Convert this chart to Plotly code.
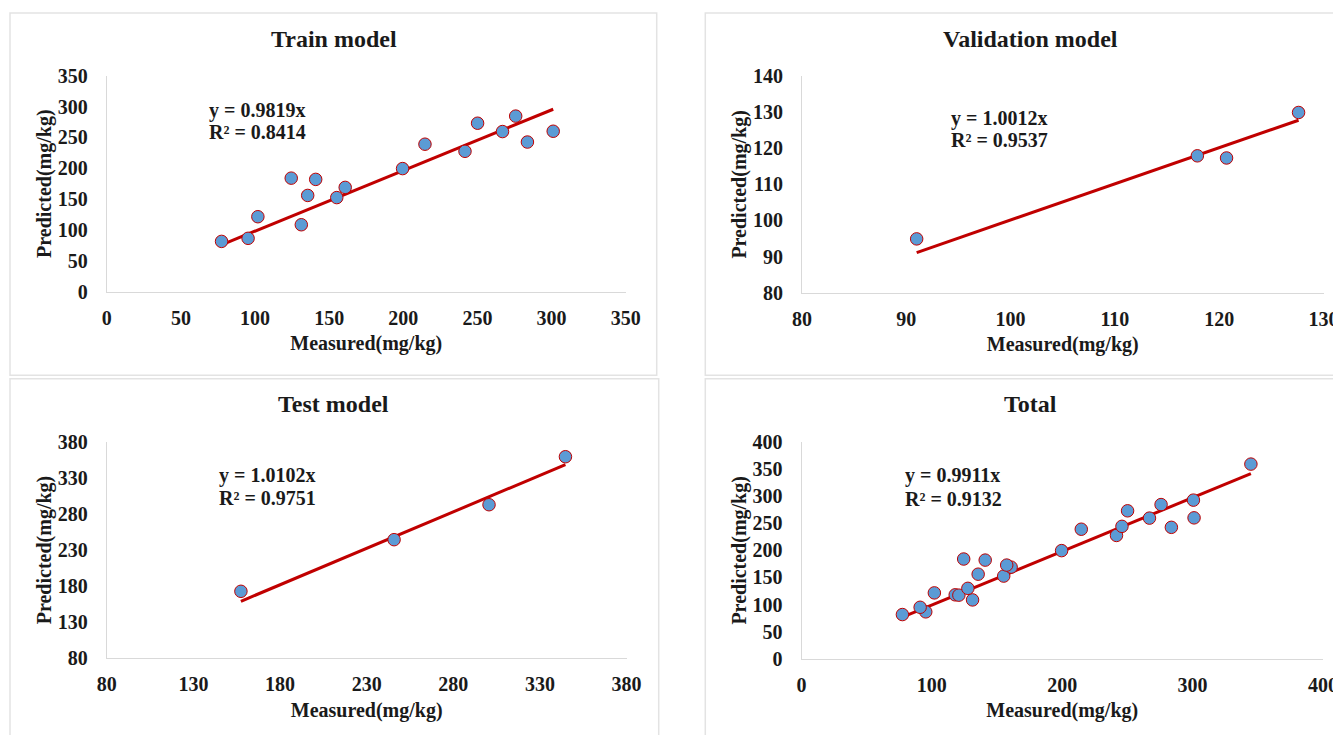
import plotly.graph_objects as go

# ---------------- data ----------------
train_measured = [77.4, 95.3, 101.9, 124.4, 131.2, 135.5, 140.9, 155.1, 160.8,
                  199.5, 214.6, 241.6, 250.1, 266.9, 275.8, 283.7, 301.1]
train_predicted = [81.5, 86.5, 121.5, 184.0, 108.5, 156.0, 182.0, 152.5, 169.0,
                   199.5, 239.0, 227.5, 273.0, 259.5, 284.5, 242.5, 260.0]

val_measured = [91.0, 117.9, 120.7, 127.6]
val_predicted = [94.9, 117.9, 117.3, 129.9]

test_measured = [157.4, 245.8, 300.6, 344.7]
test_predicted = [172.8, 244.3, 292.7, 359.2]

total_measured = train_measured + val_measured + test_measured
total_predicted = train_predicted + val_predicted + test_predicted

titles = ["Train model", "Validation model", "Test model", "Total"]
slopes = [0.9819, 1.0012, 1.0102, 0.9911]
r2_values = [0.8414, 0.9537, 0.9751, 0.9132]

x_ranges = [[0, 350], [80, 130], [80, 380], [0, 400]]
y_ranges = [[0, 350], [80, 140], [80, 380], [0, 400]]
x_dticks = [50, 10, 50, 100]
y_dticks = [50, 10, 50, 50]

x_label = "Measured(mg/kg)"
y_label = "Predicted(mg/kg)"

# ---------------- layout geometry (pixels in the page) ----------------
PAGE_W, PAGE_H = 1341, 735
OFF = 8                      # default body margin of the html page
W, H = PAGE_W - OFF, PAGE_H - OFF
FONT = "Times New Roman, Liberation Serif, serif"
TXT = "#1a1a1a"
GRID = "#d9d9d9"

plot_px = [  # x0, x1, y_top, y_bottom
    (106.8, 625.7, 75.7, 291.7),
    (801.9, 1323.6, 76.0, 292.7),
    (106.8, 626.6, 441.7, 658.3),
    (801.5, 1323.0, 442.0, 658.7),
]
panel_px = [  # left, top, right, bottom
    (10, 13, 656.7, 375.3),
    (705.3, 13, 1360, 375.3),
    (10, 378.7, 658.7, 760),
    (705.3, 378.7, 1360, 760),
]
title_px = [(333.5, 39), (1030, 39), (333.5, 404), (1030, 404)]
eq_px = [(207, 110, 131.7), (949, 118, 140), (217.4, 475, 498), (902.6, 475, 499)]

def px(x):
    return (x - OFF) / W

def py(y):
    return 1 - (y - OFF) / H

series = [
    (train_measured, train_predicted),
    (val_measured, val_predicted),
    (test_measured, test_predicted),
    (total_measured, total_predicted),
]

fig = go.Figure()
layout_axes = {}
annotations = []
shapes = []

for i, (xs, ys) in enumerate(series):
    n = i + 1
    xa = "x" if n == 1 else f"x{n}"
    ya = "y" if n == 1 else f"y{n}"
    xkey = "xaxis" if n == 1 else f"xaxis{n}"
    ykey = "yaxis" if n == 1 else f"yaxis{n}"

    # trend line through origin
    xmin, xmax = min(xs), max(xs)
    fig.add_trace(go.Scatter(
        x=[xmin, xmax], y=[slopes[i] * xmin, slopes[i] * xmax],
        mode="lines", line=dict(color="#c00000", width=3),
        xaxis=xa, yaxis=ya, showlegend=False, hoverinfo="skip"))
    fig.add_trace(go.Scatter(
        x=xs, y=ys, mode="markers",
        marker=dict(size=12.5, color="#5b9bd5",
                    line=dict(color="#c00000", width=1)),
        xaxis=xa, yaxis=ya, showlegend=False))

    x0, x1, yt, yb = plot_px[i]
    axis_common = dict(
        showgrid=False, zeroline=False, showline=True, linecolor=GRID,
        linewidth=1, ticks="outside", tickcolor="rgba(0,0,0,0)",
        automargin=False,
        tickfont=dict(family=FONT, size=20, color=TXT),
        title_font=dict(family=FONT, size=20, color=TXT),
    )
    layout_axes[xkey] = dict(
        axis_common, domain=[px(x0), px(x1)], range=x_ranges[i],
        dtick=x_dticks[i], tick0=x_ranges[i][0], ticklen=8,
        anchor=ya, title=dict(text=f"<b>{x_label}</b>", standoff=8),
        tickprefix="<b>", ticksuffix="</b>")
    layout_axes[ykey] = dict(
        axis_common, domain=[py(yb), py(yt)], range=y_ranges[i],
        dtick=y_dticks[i], tick0=y_ranges[i][0], ticklen=14,
        anchor=xa, title=dict(text=f"<b>{y_label}</b>", standoff=0),
        tickprefix="<b>", ticksuffix="</b>")

    # panel border
    l, t, r, b = panel_px[i]
    shapes.append(dict(type="rect", xref="paper", yref="paper",
                       x0=px(l), x1=px(r), y0=py(b), y1=py(t),
                       line=dict(color="#e3e3e3", width=1.5),
                       fillcolor="rgba(0,0,0,0)", layer="below"))

    # panel title
    tx, ty = title_px[i]
    annotations.append(dict(text=f"<b>{titles[i]}</b>", xref="paper", yref="paper",
                            x=px(tx), y=py(ty), xanchor="center", yanchor="middle",
                            showarrow=False,
                            font=dict(family=FONT, size=24, color=TXT)))

    # equation text
    ex, ey1, ey2 = eq_px[i]
    annotations.append(dict(text=f"<b>y = {slopes[i]:.4f}x</b>", xref="paper", yref="paper",
                            x=px(ex), y=py(ey1), xanchor="left", yanchor="middle",
                            showarrow=False,
                            font=dict(family=FONT, size=20, color=TXT)))
    annotations.append(dict(text=f"<b>R² = {r2_values[i]:.4f}</b>", xref="paper", yref="paper",
                            x=px(ex), y=py(ey2), xanchor="left", yanchor="middle",
                            showarrow=False,
                            font=dict(family=FONT, size=20, color=TXT)))

fig.update_layout(
    width=W, height=H,
    margin=dict(l=0, r=0, t=0, b=0, autoexpand=False),
    paper_bgcolor="white", plot_bgcolor="white",
    annotations=annotations, shapes=shapes,
    **layout_axes,
)

fig.write_html("out.html")
